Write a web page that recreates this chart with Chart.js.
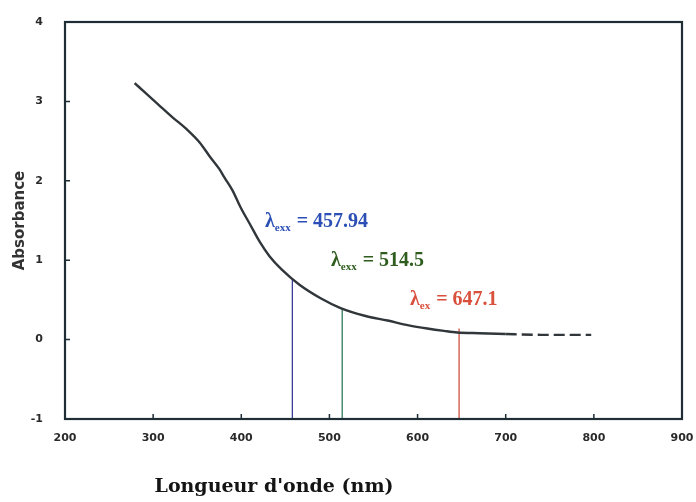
<!DOCTYPE html>
<html>
<head>
<meta charset="utf-8">
<script src="https://cdn.jsdelivr.net/npm/chart.js@4.4.1/dist/chart.umd.min.js"></script>
<style>
  html, body { margin: 0; padding: 0; background: #ffffff; }
  #wrap { width: 696px; height: 502px; }
</style>
</head>
<body>
<div id="wrap"><canvas id="c" width="696" height="502"></canvas></div>
<script>
// Absorption spectrum (wavelength in nm, absorbance)
const wavelengths = [279, 290, 305, 322, 338, 353, 364, 375, 381, 390, 399, 410, 421, 432, 446, 466, 490, 512, 540, 566, 590, 611, 630, 645, 670, 700, 740, 797];
const absorbance  = [3.23, 3.12, 2.97, 2.80, 2.65, 2.48, 2.31, 2.15, 2.04, 1.88, 1.67, 1.45, 1.23, 1.05, 0.88, 0.69, 0.52, 0.40, 0.30, 0.24, 0.18, 0.14, 0.11, 0.09, 0.08, 0.07, 0.06, 0.06];

// Excitation wavelengths and the absorbance where each marker meets the curve
const excitationNm   = [457.94, 514.5, 647.1];
const excitationTop  = [0.77, 0.39, 0.14];
const excitationText = ['457.94', '514.5', '647.1'];
const excitationSub  = ['exx', 'exx', 'ex'];

// Axis ticks
const xTicks = [200, 300, 400, 500, 600, 700, 800, 900];
const yTicks = [-1, 0, 1, 2, 3, 4];

const lineColors  = ['#3b3f9c', '#2c7a58', '#d0503e'];
const labelColors = ['#2b4fb5', '#2f5d1e', '#d9503c'];
const labelPos = [[265, 227], [331, 266], [410, 305]]; // left, baseline (px)

const curve = wavelengths.map((w, i) => ({ x: w, y: absorbance[i] }));

const datasets = [{
  data: curve,
  showLine: true,
  borderColor: '#30363a',
  borderWidth: 2.4,
  pointRadius: 0,
  cubicInterpolationMode: 'monotone',
  segment: {
    borderDash: ctx => ctx.p0.parsed.x >= 700 ? [11, 5] : undefined
  }
}];
excitationNm.forEach((w, i) => {
  datasets.push({
    data: [{ x: w, y: yTicks[0] }, { x: w, y: excitationTop[i] }],
    showLine: true,
    borderColor: lineColors[i],
    borderWidth: 1.3,
    pointRadius: 0
  });
});

const frame = {
  id: 'frame',
  afterDatasetsDraw(chart) {
    const { ctx, chartArea: a, scales: { x, y } } = chart;
    ctx.save();
    // inward tick marks
    ctx.strokeStyle = '#1f2d35';
    ctx.lineWidth = 1.5;
    ctx.beginPath();
    xTicks.slice(1, -1).forEach(v => {
      const px = x.getPixelForValue(v);
      ctx.moveTo(px, a.bottom); ctx.lineTo(px, a.bottom - 5);
    });
    yTicks.slice(1, -1).forEach(v => {
      const py = y.getPixelForValue(v);
      ctx.moveTo(a.left, py); ctx.lineTo(a.left + 5, py);
    });
    ctx.stroke();
    // plot frame
    ctx.lineWidth = 2.2;
    ctx.strokeRect(a.left, a.top, a.right - a.left, a.bottom - a.top);

    // excitation labels
    excitationText.forEach((t, i) => {
      let [lx, by] = labelPos[i];
      ctx.fillStyle = labelColors[i];
      ctx.textBaseline = 'alphabetic';
      ctx.textAlign = 'left';
      ctx.font = 'bold 20px "Liberation Serif", serif';
      ctx.fillText('λ', lx, by);
      lx += ctx.measureText('λ').width;
      ctx.font = 'bold 11px "Liberation Serif", serif';
      ctx.fillText(excitationSub[i], lx, by + 4);
      lx += ctx.measureText(excitationSub[i]).width + 6;
      ctx.font = 'bold 20px "Liberation Serif", serif';
      ctx.fillText('= ' + t, lx, by);
    });

    // x axis title
    ctx.fillStyle = '#141414';
    ctx.font = 'bold 19px "DejaVu Serif", serif';
    ctx.textAlign = 'center';
    ctx.textBaseline = 'middle';
    ctx.fillText("Longueur d'onde (nm)", 274, 487);
    ctx.restore();
  }
};

const tickFont = { family: '"DejaVu Sans", sans-serif', weight: 'bold', size: 11 };

new Chart(document.getElementById('c'), {
  type: 'scatter',
  data: { datasets },
  options: {
    responsive: false,
    animation: false,
    layout: { padding: { top: 22, right: 14, left: 0, bottom: 0 } },
    plugins: { legend: { display: false }, tooltip: { enabled: false } },
    scales: {
      x: {
        type: 'linear',
        min: xTicks[0], max: xTicks[xTicks.length - 1],
        afterFit: s => { s.height = 83; s.paddingLeft = 0; s.paddingRight = 0; },
        afterBuildTicks: s => { s.ticks = xTicks.map(v => ({ value: v })); },
        grid: { display: false, drawTicks: false },
        border: { display: false },
        ticks: { padding: 13, color: '#2a2a2a', font: tickFont }
      },
      y: {
        type: 'linear',
        min: yTicks[0], max: yTicks[yTicks.length - 1],
        afterFit: s => { s.width = 65; s.paddingTop = 0; s.paddingBottom = 0; },
        afterBuildTicks: s => { s.ticks = yTicks.map(v => ({ value: v })); },
        grid: { display: false, drawTicks: false },
        border: { display: false },
        ticks: { padding: 22, color: '#2a2a2a', font: tickFont },
        title: {
          display: true, text: 'Absorbance', color: '#333333',
          padding: { top: 11, bottom: 0 },
          font: { family: '"DejaVu Sans", sans-serif', weight: 'bold', size: 15 }
        }
      }
    }
  },
  plugins: [frame]
});
</script>
</body>
</html>
